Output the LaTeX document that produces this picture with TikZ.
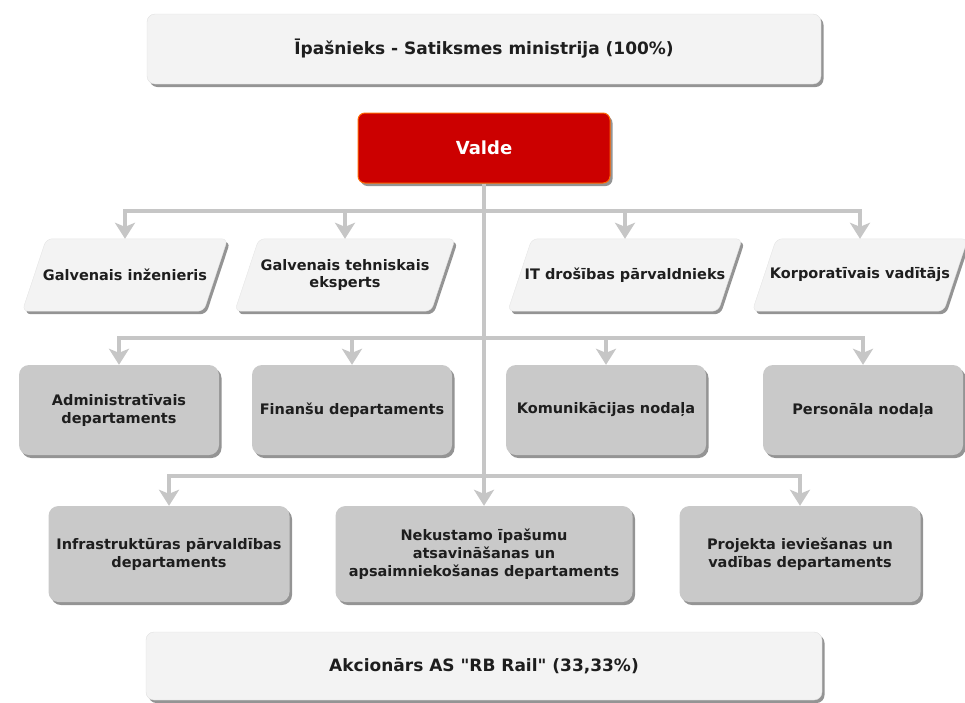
\documentclass[tikz,border=0pt]{standalone}
\usepackage{fontspec}
\setmainfont{DejaVu Sans}[Ligatures=TeXOff]
\usetikzlibrary{arrows.meta,shadows,backgrounds,positioning}
\definecolor{deptgray}{HTML}{C9C9C9}
\definecolor{palegray}{HTML}{F3F3F3}
\definecolor{linegray}{HTML}{C6C6C6}
\definecolor{valdered}{HTML}{CC0000}
\definecolor{darktext}{HTML}{1E1E1E}
\begin{document}
\begin{tikzpicture}[x=1pt, y=-1pt, >={Stealth[width=20pt,length=16pt,inset=4pt]},
dropsh/.style={drop shadow={shadow xshift=2.5pt, shadow yshift=-3pt, fill=black!42, opacity=1}},
owner/.style={fill=palegray, draw=black!12, rounded corners=8pt, minimum height=70pt, dropsh, font=\bfseries\fontsize{17}{20}\selectfont, text=darktext},
board/.style={fill=valdered, draw=orange!80!red, line width=1pt, rounded corners=7pt, minimum width=252pt, minimum height=70pt, dropsh, text=white, font=\bfseries\fontsize{18}{21}\selectfont},
expert/.style={minimum height=72pt, inner xsep=1pt, align=center, font=\bfseries\fontsize{14.5}{17}\selectfont, text=darktext},
paral/.style={fill=palegray, draw=black!10, rounded corners=6pt, dropsh},
dept/.style={fill=deptgray, rounded corners=10pt, dropsh, align=center, font=\bfseries\fontsize{14.5}{18}\selectfont, text=darktext},
conn/.style={draw=linegray, line width=3.5pt},
bar/.style={conn, line cap=rect},
arr/.style={conn, ->}]

\useasboundingbox (0,0) rectangle (965,702);

%%%%%%%% SETTINGS %%%%%%%%%%%%%
\pgfmathsetmacro{\Slant}{24}
%%%%%%%%%%%%%%%%%%%%%%%%%%%

%%%%%%%% BOXES %%%%%%%%%%%%%
\node[owner, minimum width=674pt] (own) at (484,49) {Īpašnieks - Satiksmes ministrija (100\%)};
\node[board] (valde) at (484,148) {Valde};

\node[expert, minimum width=205pt] (galv) at (125,275) {Galvenais inženieris};
\node[expert, minimum width=220pt] (tehn) at (345,275) {Galvenais tehniskais\\eksperts};
\node[expert, minimum width=234pt] (itdr) at (625,275) {IT drošības pārvaldnieks};
\node[expert, minimum width=215pt] (korp) at (860,275) {Korporatīvais vadītājs};

\begin{scope}[on background layer]
\foreach \n in {galv,tehn,itdr,korp}{
  \draw[paral] ([xshift=\Slant pt]\n.north west) -- (\n.north east)
    -- ([xshift=-\Slant pt]\n.south east) -- (\n.south west) -- cycle;
}
\end{scope}

\node[dept, minimum width=200pt, minimum height=90pt] (admin) at (119,410) {Administratīvais\\departaments};
\node[dept, minimum width=200pt, minimum height=90pt] (fin) at (352,410) {Finanšu departaments};
\node[dept, minimum width=200pt, minimum height=90pt] (komun) at (606,410) {Komunikācijas nodaļa};
\node[dept, minimum width=200pt, minimum height=90pt] (pers) at (863,410) {Personāla nodaļa};

\node[dept, minimum width=241pt, minimum height=96pt] (infra) at (169,554) {Infrastruktūras pārvaldības\\departaments};
\node[dept, minimum width=297pt, minimum height=96pt] (nek) at (484,554) {Nekustamo īpašumu\\atsavināšanas un\\apsaimniekošanas departaments};
\node[dept, minimum width=241pt, minimum height=96pt] (proj) at (800,554) {Projekta ieviešanas un\\vadības departaments};

\node[owner, minimum width=676pt, minimum height=68pt] (akc) at (484,666) {Akcionārs AS "RB Rail" (33,33\%)};

%%%%%%%% CONNECTORS %%%%%%%%%%%%%
\coordinate (bar1) at (484,211);
\coordinate (bar2) at (484,338);
\coordinate (bar3) at (484,476);

\draw[arr] (valde.south) -- (nek.north);
\draw[bar] (galv.north |- bar1) -- (korp.north |- bar1);
\draw[bar] (admin.north |- bar2) -- (pers.north |- bar2);
\draw[bar] (infra.north |- bar3) -- (proj.north |- bar3);

\foreach \n in {galv,tehn,itdr,korp}{
  \draw[arr] (\n.north |- bar1) -- (\n.north);
}
\foreach \n in {admin,fin,komun,pers}{
  \draw[arr] (\n.north |- bar2) -- (\n.north);
}
\foreach \n in {infra,proj}{
  \draw[arr] (\n.north |- bar3) -- (\n.north);
}
\end{tikzpicture}
\end{document}
